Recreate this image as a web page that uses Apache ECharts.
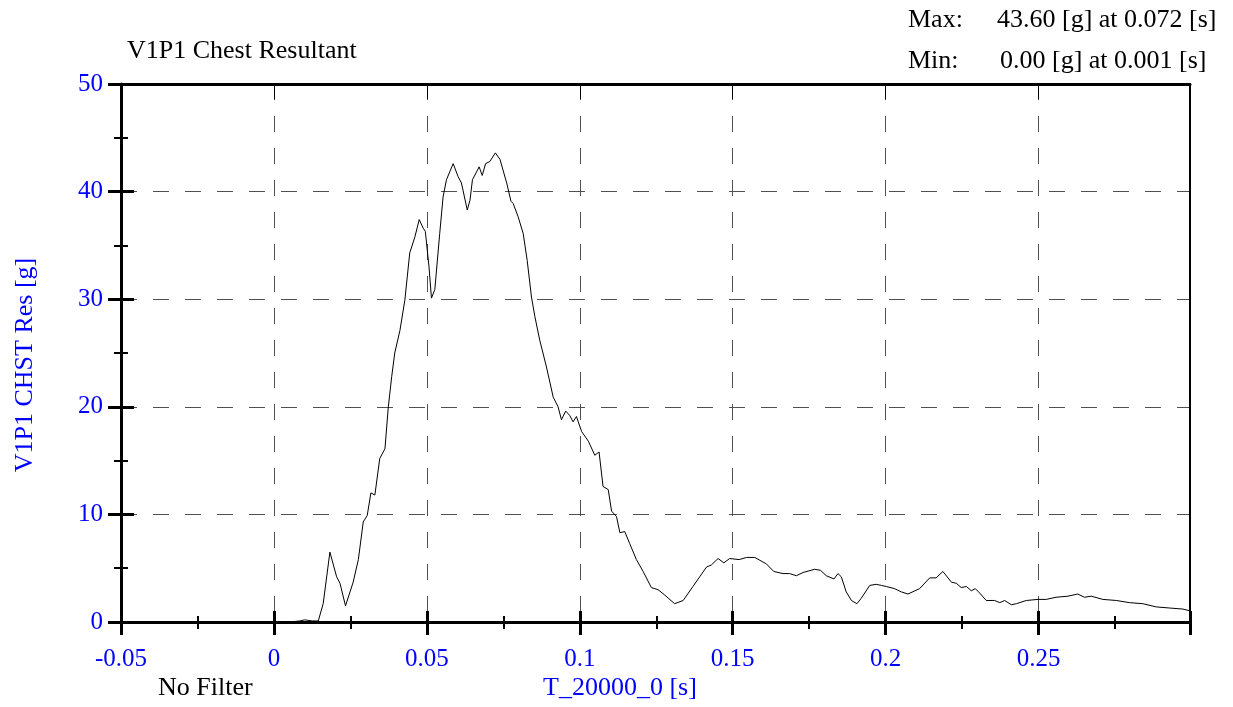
<!DOCTYPE html>
<html>
<head>
<meta charset="utf-8">
<title>V1P1 Chest Resultant</title>
<script src="https://cdn.jsdelivr.net/npm/echarts@6/dist/echarts.min.js"></script>
<style>
  html, body { margin: 0; padding: 0; background: #fff; }
  #chart { width: 1233px; height: 707px; }
</style>
</head>
<body>
<div id="chart"></div>
<script>
// -- Data: time [s] and chest resultant [g] --
const timeS = [
  0, 0.005, 0.0085, 0.010, 0.0125, 0.0145, 0.0161, 0.0183, 0.0205, 0.0216,
  0.0234, 0.0259, 0.0276, 0.0292, 0.0305, 0.0317, 0.0330, 0.0346, 0.0363, 0.0374,
  0.0385, 0.0395, 0.0412, 0.0428, 0.0444, 0.0461, 0.0475, 0.0488, 0.0495, 0.0507,
  0.0515, 0.0526, 0.0542, 0.0553, 0.0564, 0.0586, 0.0602, 0.0613, 0.0632, 0.0641,
  0.0649, 0.0671, 0.0681, 0.0692, 0.0706, 0.0724, 0.0739, 0.0761, 0.0775, 0.0782,
  0.0798, 0.0815, 0.0828, 0.0842, 0.0853, 0.0869, 0.0891, 0.0913, 0.0929, 0.0940,
  0.0954, 0.0967, 0.0978, 0.0989, 0.1006, 0.1028, 0.1049, 0.1063, 0.1076, 0.1093,
  0.1104, 0.1120, 0.1131, 0.1147, 0.1163, 0.1185, 0.1207, 0.1234, 0.1256, 0.1278,
  0.1310, 0.1338, 0.1370, 0.1392, 0.1414, 0.1430, 0.1452, 0.1471, 0.1490, 0.1521,
  0.1545, 0.1572, 0.1610, 0.1634, 0.1664, 0.1686, 0.1708, 0.1730, 0.1768, 0.1787,
  0.1806, 0.1831, 0.1844, 0.1855, 0.1871, 0.1888, 0.1906, 0.1920, 0.1948, 0.1969,
  0.1986, 0.2002, 0.2029, 0.2051, 0.2073, 0.2111, 0.2144, 0.2165, 0.2187, 0.2215,
  0.2231, 0.2247, 0.2264, 0.2280, 0.2293, 0.2307, 0.2329, 0.2356, 0.2373, 0.2389,
  0.2411, 0.2427, 0.2460, 0.2498, 0.2525, 0.2557, 0.2596, 0.2628, 0.2650, 0.2672,
  0.2710, 0.2754, 0.2797, 0.2841, 0.2885, 0.2928, 0.2972, 0.2993
];
const chestG = [
  0, 0, 0.1, 0.2, 0.1, 0.1, 1.7, 6.5, 4.2, 3.6,
  1.5, 3.7, 5.8, 9.3, 9.9, 12.0, 11.8, 15.2, 16.1, 20.0,
  22.8, 25.0, 27.1, 29.9, 34.3, 35.8, 37.4, 36.6, 36.3, 33.0,
  30.1, 30.9, 36.1, 39.5, 41.1, 42.6, 41.4, 40.8, 38.3, 39.2,
  41.1, 42.3, 41.5, 42.6, 42.8, 43.6, 43.0, 40.8, 39.1, 38.9,
  37.7, 36.1, 33.6, 30.2, 28.4, 26.2, 23.7, 20.9, 20.0, 18.8,
  19.6, 19.2, 18.6, 19.1, 17.7, 16.8, 15.5, 15.8, 12.6, 12.3,
  10.3, 9.8, 8.3, 8.4, 7.3, 5.8, 4.7, 3.2, 3.0, 2.5,
  1.7, 2.0, 3.3, 4.2, 5.1, 5.3, 5.9, 5.5, 5.9, 5.8,
  6.0, 6.0, 5.4, 4.7, 4.5, 4.5, 4.3, 4.6, 4.9, 4.8,
  4.3, 4.0, 4.5, 4.2, 2.8, 2.0, 1.7, 2.2, 3.4, 3.5,
  3.4, 3.3, 3.1, 2.8, 2.6, 3.1, 4.1, 4.1, 4.7, 3.7,
  3.6, 3.2, 3.3, 2.9, 3.1, 2.7, 2.0, 2.0, 1.8, 2.0,
  1.6, 1.7, 2.0, 2.1, 2.1, 2.3, 2.4, 2.6, 2.3, 2.4,
  2.1, 2.0, 1.8, 1.7, 1.4, 1.3, 1.2, 1.05
];

// -- Axis ranges --
const xRange = [-0.05, 0.2995, 0.05];
const yRange = [0, 50, 10];

const FONT = 'Liberation Serif';
const BLUE = '#0000ff';
const GRID_DASH = { color: '#505050', width: 1, type: [16, 16] };

const chart = echarts.init(document.getElementById('chart'), null, { renderer: 'canvas' });

// Base x/y axis config, with overrides per copy (outside ticks, inside ticks, frame)
function xAxisOf(extra) {
  return Object.assign({
    type: 'value', min: xRange[0], max: xRange[1], interval: xRange[2],
    axisLine: { onZero: false, show: false },
    axisTick: { show: false },
    axisLabel: { show: false },
    splitLine: { show: false }
  }, extra);
}
function yAxisOf(extra) {
  return Object.assign({
    type: 'value', min: yRange[0], max: yRange[1], interval: yRange[2],
    axisLine: { onZero: false, show: false },
    axisTick: { show: false },
    axisLabel: { show: false },
    splitLine: { show: false }
  }, extra);
}

const tickStyle = { color: '#000', width: 3 };
const minorStyle = { color: '#000', width: 2 };

// small helper for the free text around the frame
function label(text, x, y, color, align) {
  return {
    type: 'text', x: x, y: y,
    style: { text: text, fill: color, font: '26px "Liberation Serif"',
             align: align || 'left', verticalAlign: 'middle' }
  };
}

chart.setOption({
  animation: false,
  backgroundColor: '#fff',
  grid: { left: 121, top: 84, right: 43, bottom: 85, containLabel: false },
  xAxis: [
    xAxisOf({
      position: 'bottom',
      axisLine: { show: true, onZero: false, lineStyle: { color: '#000', width: 3 } },
      axisTick: { show: true, inside: false, length: 13, lineStyle: tickStyle },
      minorTick: { show: true, splitNumber: 2, length: 7, lineStyle: minorStyle },
      axisLabel: {
        show: true, color: BLUE, fontFamily: FONT, fontSize: 25, margin: 25,
        showMaxLabel: false
      },
      splitLine: { show: true, lineStyle: GRID_DASH }
    }),
    xAxisOf({
      position: 'bottom',
      axisTick: { show: true, inside: true, length: 11, lineStyle: tickStyle },
      minorTick: { show: true, splitNumber: 2, length: 6, lineStyle: minorStyle }
    }),
    xAxisOf({
      position: 'top',
      axisLine: { show: true, onZero: false, lineStyle: { color: '#000', width: 3 } },
      axisTick: { show: true, inside: true, length: 15, lineStyle: { color: '#000', width: 1 } }
    })
  ],
  yAxis: [
    yAxisOf({
      position: 'left',
      axisLine: { show: true, onZero: false, lineStyle: { color: '#000', width: 3 } },
      axisTick: { show: true, inside: false, length: 13, lineStyle: tickStyle },
      minorTick: { show: true, splitNumber: 2, length: 7, lineStyle: minorStyle },
      axisLabel: { show: true, color: BLUE, fontFamily: FONT, fontSize: 25, margin: 18 },
      splitLine: { show: true, lineStyle: GRID_DASH }
    }),
    yAxisOf({
      position: 'left',
      axisTick: { show: true, inside: true, length: 13, lineStyle: tickStyle },
      minorTick: { show: true, splitNumber: 2, length: 7, lineStyle: minorStyle }
    }),
    yAxisOf({
      position: 'right',
      axisLine: { show: true, onZero: false, lineStyle: { color: '#000', width: 2 } }
    })
  ],
  series: [{
    type: 'line',
    xAxisIndex: 0,
    yAxisIndex: 0,
    data: timeS.map((t, i) => [t, chestG[i]]),
    showSymbol: false,
    symbol: 'none',
    smooth: false,
    lineStyle: { color: '#000', width: 1 },
    z: 3
  }],
  graphic: [
    label('V1P1 Chest Resultant', 127, 51, '#000'),
    label('Max:', 908, 20, '#000'),
    label('43.60 [g] at 0.072 [s]', 997, 20, '#000'),
    label('Min:', 908, 61, '#000'),
    label('0.00 [g] at 0.001 [s]', 1000, 61, '#000'),
    label('No Filter', 158, 688, '#000'),
    label('T_20000_0 [s]', 543, 688, BLUE),
    Object.assign(label('V1P1 CHST Res [g]', 25, 365, BLUE, 'center'), { rotation: Math.PI / 2 })
  ]
});

window.addEventListener('resize', () => chart.resize());
</script>
</body>
</html>
